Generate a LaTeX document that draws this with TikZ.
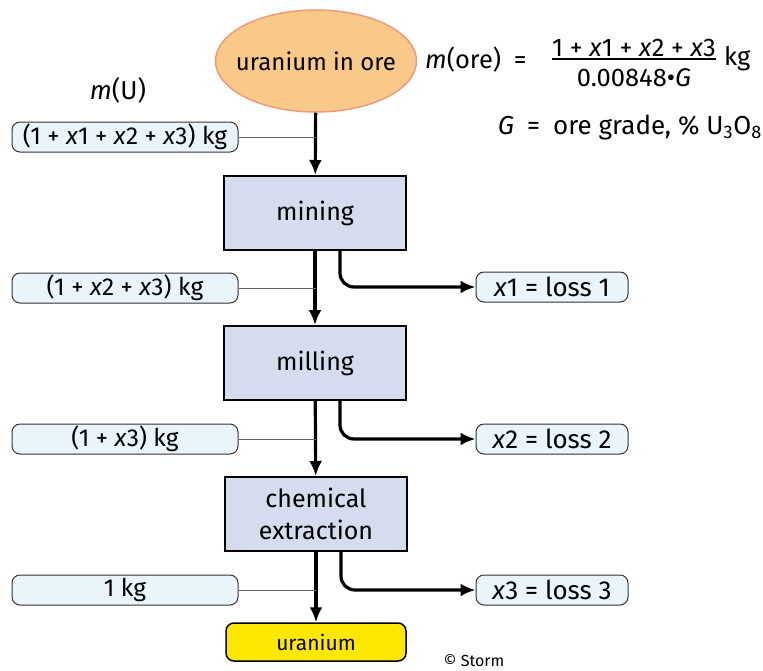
\documentclass[tikz,border=0pt]{standalone}
\usepackage{fontspec}
\setmainfont{Fira Sans}
\usetikzlibrary{shapes.geometric,arrows.meta}
\definecolor{orefill}{HTML}{F9C98A}
\definecolor{oredraw}{HTML}{EE9A78}
\definecolor{stepfill}{HTML}{D4DCEE}
\definecolor{labfill}{HTML}{EAF4FB}
\definecolor{ufill}{HTML}{FFE800}
\tikzset{
  stepbox/.style={draw=black,line width=2pt,fill=stepfill,minimum width=182pt,minimum height=74pt,align=center,inner sep=0pt,font=\fontsize{25}{32}\selectfont},
  labbox/.style={draw=black!80,line width=1pt,fill=labfill,rounded corners=8pt,minimum width=226pt,minimum height=30pt,inner sep=0pt,font=\fontsize{24.5}{28}\selectfont},
  lossbox/.style={draw=black!80,line width=1pt,fill=labfill,rounded corners=8pt,minimum width=152pt,minimum height=30pt,inner sep=0pt,font=\fontsize{26}{28}\selectfont},
  formula/.style={inner sep=0pt,font=\fontsize{25.5}{28}\selectfont},
  flow/.style={line width=3.2pt,-{Latex[length=15pt,width=13pt]}},
  tie/.style={draw=black!60,line width=1pt},
}
\begin{document}
\begin{tikzpicture}[x=1pt,y=-1pt]
\useasboundingbox (0,0) rectangle (763,670);
\node[ellipse,draw=oredraw,line width=1.5pt,fill=orefill,minimum width=201pt,minimum height=102pt,inner xsep=-12pt,inner ysep=0pt,font=\fontsize{24}{28}\selectfont] (ore) at (316,61) {uranium in ore};
\node[stepbox] (mining) at (315,213) {mining};
\node[stepbox] (milling) at (315,363) {milling};
\node[stepbox] (chem) at (316,514) {chemical\\extraction};
\node[draw=black,line width=1.5pt,fill=ufill,rounded corners=8pt,minimum width=180pt,minimum height=38pt,inner sep=0pt,font=\fontsize{21}{24}\selectfont] (uran) at (316,642) {uranium};

\node[formula,font=\fontsize{26}{28}\selectfont] (mu) at (118,90) {\textit{m}(U)};
\node[labbox] (l0) at (125,137) {(1 + \textit{x}1 + \textit{x}2 + \textit{x}3) kg};
\node[labbox] (l1) at (125,288) {(1 + \textit{x}2 + \textit{x}3) kg};
\node[labbox] (l2) at (125,439) {(1 + \textit{x}3) kg};
\node[labbox] (l3) at (125,590) {1 kg};

\node[lossbox] (x1) at (552,287) {\textit{x}1 = loss 1};
\node[lossbox] (x2) at (552,439) {\textit{x}2 = loss 2};
\node[lossbox] (x3) at (552,590) {\textit{x}3 = loss 3};

\draw[flow] (ore) -- (mining);
\draw[flow] (mining) -- (milling);
\draw[flow] (milling) -- (chem);
\draw[flow] (chem.south) -- (uran.north);

\draw[tie] (l0.east) -- (l0.east -| ore.south);
\draw[tie] (l1.east) -- (l1.east -| ore.south);
\draw[tie] (l2.east) -- (l2.east -| ore.south);
\draw[tie] (l3.east) -- (l3.east -| ore.south);

\draw[flow,rounded corners=14pt] ([xshift=25pt]mining.south) |- (x1.west);
\draw[flow,rounded corners=14pt] ([xshift=25pt]milling.south) |- (x2.west);
\draw[flow,rounded corners=14pt] ([xshift=25pt]chem.south) |- (x3.west);

\node[formula,anchor=west] (mo) at (425,60) {\textit{m}(ore)\enspace=};
\node[formula,inner ysep=2pt,anchor=south] (num) at (634,59) {1 + \textit{x}1 + \textit{x}2 + \textit{x}3};
\node[formula,anchor=north] (den) at (634,68) {0.00848\textbullet\textit{G}};
\draw[draw=black,line width=1.6pt] (num.south west) -- (num.south east);
\node[formula,anchor=west] (kg) at (724,59) {kg};
\node[formula,anchor=east,font=\fontsize{26}{28}\selectfont] (grade) at (762,128) {\textit{G}\enspace=\enspace ore grade, \% U\textsubscript{3}O\textsubscript{8}};
\node[inner sep=0pt,font=\fontsize{16}{18}\selectfont] (storm) at (474,661) {© Storm};
\end{tikzpicture}
\end{document}
